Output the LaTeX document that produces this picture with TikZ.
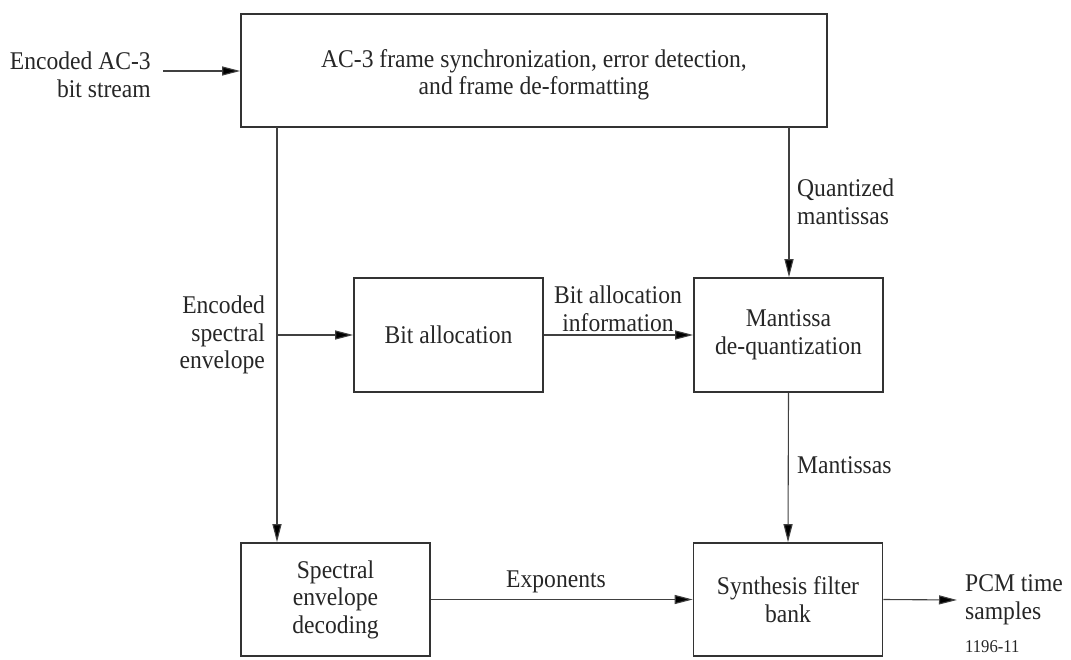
\documentclass[tikz,border=0pt]{standalone}
\usepackage{fontspec}
\setmainfont{Liberation Serif}
\newfontfamily\diagfont[FakeStretch=0.925]{Liberation Serif}
\usetikzlibrary{arrows.meta}
\begin{document}
\begin{tikzpicture}[x=1pt,y=-1pt,
  every node/.style={font=\diagfont\fontsize{25.5}{27.5}\selectfont, text=black!85, inner sep=0pt},
  block/.style={draw=black!80, line width=1.6pt, minimum width=189pt, minimum height=113pt, align=center},
  flow/.style={draw=black!75, line width=1.1pt, -{Triangle[length=18pt,width=9pt,fill=black]}},
  link/.style={draw=black!75, line width=1.1pt},
  lbl/.style={align=left}]
  \useasboundingbox (0,0) rectangle (1071,660);

  % processing blocks
  \node[block, minimum width=586pt, minimum height=113pt] (sync) at (534,70.5) {};
  \node[align=center] (synctext) at (534,75)
    {AC-3 frame synchronization, error detection,\\and frame de-formatting};
  \node[block, minimum height=114pt] (bitalloc) at (448.5,335) {Bit allocation};
  \node[block, minimum height=114pt] (dequant) at (788.5,335) {Mantissa\\de-quantization};
  \node[block] (specdec) at (335.5,599.5) {Spectral\\envelope\\decoding};
  \node[block] (synth) at (788,599.5) {Synthesis filter\\bank};

  % free ends and branch point
  \coordinate (in) at (163,71);
  \coordinate (out) at (957,600);
  \coordinate (split) at (277,127);
  \coordinate (branch) at (277,335);
  \coordinate (qsrc) at (789,127);

  % connectors
  \draw[flow] (in) -- (in -| sync.west);
  \draw[link] (split) -- (branch);
  \draw[flow] (branch) -- (specdec.north -| branch);
  \draw[flow] (branch) -- (bitalloc.west);
  \draw[flow] (bitalloc.east) -- (dequant.west);
  \draw[flow] (qsrc) -- (dequant.north -| qsrc);
  \draw[flow] (dequant.south) -- (synth.north);
  \draw[flow] (specdec.east) -- (specdec.east -| synth.west);
  \draw[flow] (synth.east) -- (out);

  % connector labels
  \node[align=right, anchor=east] (lin) at (151,75) {Encoded AC-3\\bit stream};
  \node[align=right, anchor=east] (lenv) at (265,335) {Encoded\\spectral\\envelope};
  \node[align=center] (lbits) at (618,309) {Bit allocation\\information};
  \node[lbl, anchor=west] (lq) at (797,202) {Quantized\\mantissas};
  \node[anchor=base west] (lm) at (797,473) {Mantissas};
  \node[anchor=base] (lexp) at (556,587) {Exponents};
  \node[lbl, anchor=west] (lpcm) at (965,600) {PCM time\\samples};
  \node[anchor=base west, font=\diagfont\fontsize{18}{20}\selectfont] (fig) at (965,652) {1196-11};
\end{tikzpicture}
\end{document}
